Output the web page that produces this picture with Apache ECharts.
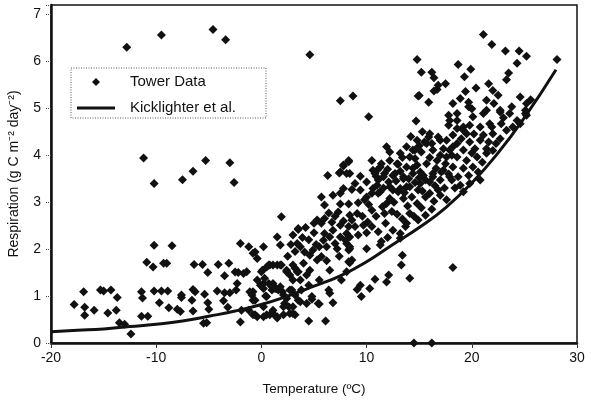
<!DOCTYPE html>
<html>
<head>
<meta charset="utf-8">
<script src="https://cdn.jsdelivr.net/npm/echarts@6/dist/echarts.min.js"></script>
<style>
  html, body { margin: 0; padding: 0; background: #fff; }
  #chart { width: 591px; height: 400px; }
</style>
</head>
<body>
<div id="chart"></div>
<script>
// Tower data (temperature, respiration)
const towerTemp = [
  -17.8,-16.9,-16.8,-16.8,-15.9,-15.3,-15.0,-14.6,-14.3,-13.8,-13.7,-13.5,-13.0,-12.4,-11.4,-11.3,-11.4,-10.8,-10.9,-10.3,
  -10.2,-10.2,-9.7,-9.5,-9.3,-9.0,-8.9,-8.8,-8.5,-8.0,-7.7,-7.6,-7.6,-6.6,-6.5,-6.3,-6.5,-6.4,-5.6,-5.4,
  -5.1,-5.1,-5.0,-5.5,-5.2,-4.2,-4.1,-3.5,-3.6,-3.5,-3.2,-3.1,-3.0,-2.4,-2.3,-2.5,-2.2,-2.0,-2.0,-1.2,
  -0.6,-0.4,0.2,-1.4,-0.4,-0.8,-0.6,-0.4,0.2,0.2,
  -12.8,-9.5,-4.6,-3.4,-11.2,-10.2,-7.5,-6.5,-5.3,-3.0,-2.6,4.6,
  21.1,21.9,23.2,24.5,25.2,24.3,28.1,14.8,15.2,16.2,16.4,18.7,19.9,19.3,17.5,16.7,16.4,14.9,15.9,7.5,
  8.7,10.2,14.7,19.4,20.4,21.6,22.0,22.5,21.4,23.5,23.3,24.6,25.6,18.2,18.9,19.7,20.0,21.4,17.8,18.6,
  21.7,22.7,23.8,25.1,25.2,11.9,12.2,14.6,7.8,8.3,7.5,8.4,9.4,6.3,8.6,10.5,16.8,15.0,15.3,17.8,
  15.9,15.5,16.2,17.0,14.4,11.4,13.0,14.6,14.4,15.1,11.0,11.7,12.7,11.1,12.1,13.5,13.8,15.6,16.3,17.1,
  17.5,18.1,10.6,12.5,14.9,16.8,18.1,
  22.1,19.7,18.6,20.1,21.1,22.7,23.6,25.2,17.9,19.2,20.8,22.8,24.3,25.1,18.2,19.5,21.1,22.0,23.3,23.9,
  24.6,18.6,19.8,20.8,21.6,22.7,17.9,19.2,20.3,21.4,22.3,18.6,19.5,20.5,21.4,18.2,19.2,20.1,18.7,19.7,
  20.6,18.9,19.8,20.8,19.2,
  16.0,16.8,17.6,18.6,19.2,19.8,14.8,15.7,13.8,13.2,14.1,15.2,16.3,17.3,18.2,12.2,12.9,13.8,14.8,15.7,
  16.7,17.6,11.3,10.8,11.6,12.5,13.5,14.4,15.4,16.3,17.3,10.0,11.0,12.2,13.2,14.1,15.1,16.0,17.0,17.9,
  9.4,10.5,8.9,10.6,10.0,11.3,7.8,7.5,6.8,5.7,7.4,8.1,7.8,8.3,
  11.1,11.9,12.2,13.0,13.5,14.3,14.8,15.6,16.0,17.0,9.2,8.3,10.5,11.7,12.9,14.1,14.9,15.6,9.1,8.4,
  8.6,8.3,8.9,9.7,10.5,11.1,13.8,13.7,8.1,8.1,8.4,11.4,11.3,13.2,13.2,10.0,8.6,8.4,13.4,13.3,
  12.1,11.9,10.8,14.1,9.4,9.1,10.3,9.5,18.2,14.5,16.2,
  7.6,8.1,6.8,6.1,4.5,5.5,4.8,3.7,3.2,
  1.9,6.0,6.4,7.3,7.5,5.3,5.7,6.7,7.5,4.2,3.5,3.0,1.5,1.8,-0.8,3.7,4.1,4.6,4.9,5.5,
  5.9,6.0,6.5,7.0,7.2,7.5,8.0,8.3,5.3,5.7,6.5,8.3,0.7,1.1,1.8,0.1,2.4,3.2,3.5,4.6,
  4.3,-1.7,0.3,0.7,1.1,1.0,1.4,1.8,2.0,2.7,3.0,3.7,4.5,3.8,5.5,6.4,-1.1,-0.9,0.4,-0.8,
  2.2,2.6,3.0,3.5,4.3,4.8,5.4,6.5,-0.6,0.2,0.8,1.5,1.1,2.1,-1.9,8.4,8.4,
  3.4,3.5,0.0,0.5,0.8,1.5,1.9,2.4,2.7,3.0,3.4,-0.1,0.2,1.0,1.3,1.6,0.5,2.1,2.4,2.9,
  3.2,0.5,1.1,1.5,2.1,2.7,3.0,-1.2,-0.8,
  10.9,12.0,13.2,14.0,15.0,16.6,17.8,12.8,14.6,16.5,18.4,11.6,13.6,15.3,17.4,
  9.8,10.2,12.6,13.9,15.2,16.4,17.6,11.5,10.9,12.4,13.4,14.5,16.2,9.6,10.1,11.8,12.5,9.2,10.0,12.0,
  4.5,5.0,5.2,6.2,6.8,7.8,7.0,6.0,5.0,3.9,2.5,3.2,4.0,6.2,7.4,2.8,
  19.0,20.2,21.9,23.0,20.0,21.0,22.0,17.0,16.0,15.0,14.2,13.4
];
const towerResp = [
  0.82,1.09,0.76,0.59,0.70,1.13,1.11,0.64,1.13,0.70,0.97,0.43,0.40,0.19,1.09,0.96,0.57,0.57,1.72,1.62,
  2.08,1.11,0.86,1.11,1.70,1.70,1.11,0.75,2.07,0.72,0.67,1.02,0.97,0.91,1.14,1.09,0.68,1.67,1.67,1.04,
  1.50,0.86,0.72,0.42,0.43,1.11,1.67,1.43,0.90,1.07,0.76,1.70,1.07,1.13,1.27,1.51,1.50,0.45,2.12,2.05,
  1.94,1.80,2.05,1.52,1.34,1.09,0.91,0.56,0.77,1.27,
  6.30,6.56,6.68,6.46,3.94,3.40,3.48,3.66,3.89,3.84,3.42,6.14,
  6.57,6.36,6.22,6.22,6.11,5.96,6.04,6.04,5.77,5.77,5.65,5.93,5.83,5.67,5.52,5.40,5.37,5.26,5.13,5.16,
  5.26,4.82,4.73,5.36,5.43,5.52,5.38,5.28,5.17,5.75,5.61,5.24,5.18,5.10,5.21,5.13,4.99,4.96,4.85,4.74,
  4.67,4.96,5.03,4.96,4.85,4.18,4.07,4.11,3.79,3.86,3.64,3.61,3.55,3.57,3.27,3.89,5.49,5.27,4.50,4.64,
  4.39,4.28,4.25,4.32,4.11,3.82,3.81,3.93,3.72,3.64,3.68,3.61,3.61,3.47,3.43,3.50,3.33,3.47,3.54,3.64,
  3.82,4.00,3.29,3.26,3.26,3.26,3.47,
  5.10,5.03,4.89,4.82,4.89,4.92,4.89,5.10,4.74,4.60,4.60,4.67,4.74,4.89,4.43,4.46,4.43,4.46,4.53,4.60,
  4.67,4.25,4.28,4.32,4.28,4.35,4.11,4.11,4.14,4.14,4.25,3.96,3.89,3.96,4.04,3.75,3.72,3.75,3.54,3.57,
  3.64,3.36,3.40,3.47,3.22,
  4.46,4.39,4.32,4.57,4.53,4.64,4.32,4.25,4.18,4.04,3.96,4.07,4.11,4.14,4.18,3.89,3.82,3.75,3.79,3.82,
  3.89,3.96,3.75,3.61,3.54,3.57,3.54,3.61,3.57,3.61,3.68,3.43,3.36,3.33,3.29,3.33,3.40,3.43,3.47,3.54,
  3.26,3.19,3.40,3.68,3.11,3.22,3.29,3.19,3.15,3.11,3.62,3.61,3.77,3.89,
  3.19,2.97,3.08,3.22,3.08,3.11,2.97,3.11,3.19,3.15,2.99,2.96,2.83,2.76,2.74,2.76,2.62,2.72,2.76,2.72,
  2.62,2.48,2.48,2.51,2.48,2.37,2.55,2.48,2.33,2.12,2.01,2.16,2.09,2.33,2.23,2.01,1.77,1.71,1.87,1.66,
  1.45,1.30,1.36,1.38,1.23,1.14,1.16,0.99,1.61,0.0,0.0,
  1.34,1.52,0.86,0.47,0.47,0.83,0.99,0.88,0.60,
  2.69,2.94,2.77,2.79,2.96,2.62,2.55,2.57,2.51,2.46,2.42,2.30,2.26,2.09,1.91,2.05,1.94,1.87,1.98,2.05,
  2.19,2.33,2.26,2.12,2.01,2.26,2.19,1.98,1.77,1.84,1.55,1.73,1.66,1.66,1.66,1.55,1.55,1.59,1.52,1.55,
  1.45,1.48,1.38,1.27,1.27,1.13,1.16,1.20,1.09,1.13,1.34,1.34,1.23,1.13,1.34,1.13,1.09,1.02,1.00,0.91,
  0.84,0.77,0.63,0.91,0.84,0.93,0.84,1.06,0.60,0.56,0.60,0.53,0.70,0.60,0.70,2.26,2.05,
  2.12,2.44,1.52,1.62,1.66,1.66,1.66,1.52,1.45,1.66,1.52,1.23,1.16,1.20,1.16,1.13,0.99,1.02,0.95,1.13,
  1.02,0.60,0.63,0.56,0.77,0.63,0.77,0.70,0.60,
  3.55,3.70,3.66,3.50,3.52,3.72,3.60,3.45,3.42,3.35,3.30,3.30,3.20,3.24,3.30,
  3.05,2.95,3.00,2.92,2.88,3.02,3.05,2.90,2.70,2.80,2.64,2.70,2.85,2.70,2.58,2.55,2.40,2.30,2.35,2.25,
  2.20,2.35,2.10,2.05,2.40,2.60,2.70,2.65,2.55,2.25,1.85,1.95,1.70,1.75,1.85,2.10,
  4.35,4.45,4.60,4.80,4.05,3.85,4.10,4.00,3.95,4.20,4.40,3.95
];

// Kicklighter et al. curve
const curveTemp = [-20, -17.5, -15, -12.5, -10, -7.5, -5, -2.5, 0, 2.5, 5, 7.5, 10, 12.5, 15, 17.5, 20, 22.5, 25, 28];
const curveResp = [0.24, 0.27, 0.30, 0.35, 0.40, 0.47, 0.57, 0.68, 0.82, 1.0, 1.21, 1.43, 1.73, 2.1, 2.46, 2.88, 3.41, 4.05, 4.80, 5.82];

const xTicks = [-20, -10, 0, 10, 20, 30];
const yTicks = [0, 1, 2, 3, 4, 5, 6, 7];

const towerData = towerTemp.map((t, i) => [t, towerResp[i]]);
const curveData = curveTemp.map((t, i) => [t, curveResp[i]]);

const font = '"Liberation Sans", Arial, sans-serif';

const chart = echarts.init(document.getElementById('chart'));
chart.setOption({
  animation: false,
  textStyle: { fontFamily: font },
  grid: {
    left: 51, right: 14, top: 5, bottom: 57,
    containLabel: false,
    outerBoundsMode: 'none',
    show: true, borderColor: '#111', borderWidth: 1.5, backgroundColor: 'transparent'
  },
  legend: {
    orient: 'vertical',
    left: 77,
    top: 74,
    padding: 0,
    itemWidth: 38,
    itemHeight: 8,
    itemGap: 10,
    symbolKeepAspect: true,
    textStyle: { fontSize: 15, color: '#111', fontFamily: font, lineHeight: 16, padding: [0, 0, 0, 10] },
    data: [
      { name: 'Tower Data', icon: 'path://M5,0L10,5L5,10L0,5Z' },
      { name: 'Kicklighter et al.', icon: 'path://M0,0L38,0L38,3L0,3Z' }
    ]
  },
  graphic: [{
    type: 'rect',
    shape: { x: 71, y: 68, width: 195, height: 50 },
    style: { fill: 'none', stroke: '#555', lineWidth: 1, lineDash: [1, 1.5] },
    z: 10
  }],
  xAxis: {
    type: 'value',
    min: xTicks[0],
    max: xTicks[xTicks.length - 1],
    interval: 10,
    name: 'Temperature (ºC)',
    nameLocation: 'middle',
    nameGap: 39,
    nameTextStyle: { fontSize: 13.5, color: '#111' },
    axisLine: { show: true, onZero: false, lineStyle: { color: '#111', width: 2.5 } },
    axisTick: { show: true, length: 5, lineStyle: { color: '#333' } },
    axisLabel: { fontSize: 14, color: '#111', margin: 8 },
    splitLine: { show: false }
  },
  yAxis: {
    type: 'value',
    min: 0,
    max: 7.2,
    interval: 1,
    name: 'Respiration (g C m⁻² day⁻²)',
    nameLocation: 'middle',
    nameGap: 30,
    nameTextStyle: { fontSize: 14, color: '#111' },
    axisLine: { show: true, onZero: false, lineStyle: { color: '#111', width: 2.5 } },
    axisTick: { show: true, length: 6, lineStyle: { color: '#444', type: 'dotted' } },
    axisLabel: {
      fontSize: 14, color: '#111', margin: 10,
      formatter: v => (yTicks.indexOf(v) >= 0 ? String(v) : '')
    },
    splitLine: { show: false }
  },
  series: [
    {
      name: 'Tower Data',
      type: 'scatter',
      symbol: 'diamond',
      symbolSize: 9,
      itemStyle: { color: '#111', opacity: 1 },
      data: towerData,
      z: 2
    },
    {
      name: 'Kicklighter et al.',
      type: 'line',
      smooth: true,
      symbol: 'none',
      showSymbol: false,
      lineStyle: { color: '#111', width: 3 },
      itemStyle: { color: '#111' },
      data: curveData,
      z: 3
    }
  ]
});
</script>
</body>
</html>
